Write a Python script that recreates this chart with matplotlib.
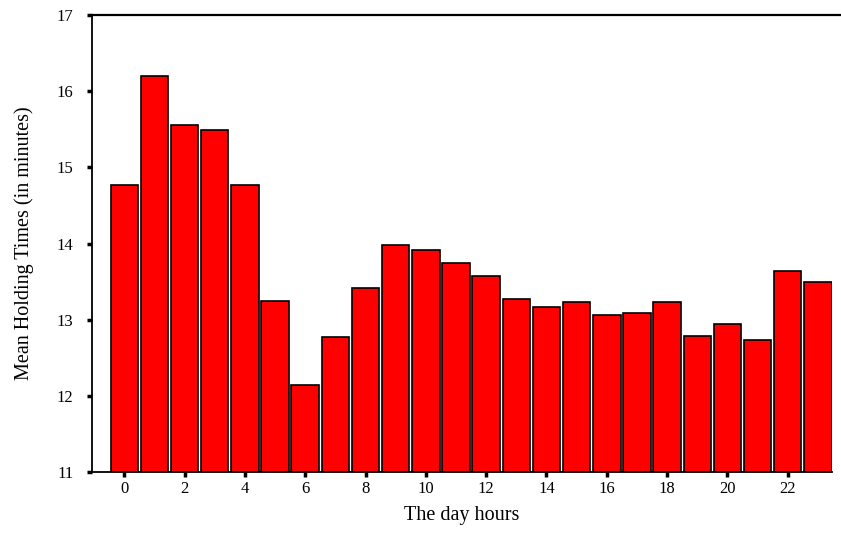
import matplotlib
matplotlib.use("Agg")
import matplotlib.pyplot as plt
from matplotlib.lines import Line2D

# Mean holding time per hour of the day
hours = list(range(24))
mean_holding = [14.77, 16.20, 15.55, 15.49, 14.77, 13.25, 12.15, 12.77,
                13.42, 13.98, 13.92, 13.74, 13.58, 13.28, 13.17, 13.23,
                13.06, 13.09, 13.23, 12.79, 12.95, 12.73, 13.64, 13.50]
y_ticks = [11, 12, 13, 14, 15, 16, 17]
x_ticks = list(range(0, 24, 2))
baseline = 11

plt.rcParams['font.family'] = ['Liberation Serif', 'DejaVu Serif']

fig = plt.figure(figsize=(8.41, 5.54), dpi=100)
ax = fig.add_axes([0.1094, 0.1475, 0.989 - 0.1094, 0.973 - 0.1475])

heights = [v - baseline for v in mean_holding]
ax.bar(hours, heights, bottom=baseline, width=0.91, color='#ff0000',
       edgecolor='black', linewidth=1.2, zorder=2)

ax.set_xlim(-1.07, 23.46)
ax.set_ylim(11, 17)
ax.set_yticks(y_ticks)
ax.set_xticks(x_ticks)

ax.spines['right'].set_visible(False)
ax.spines['top'].set_visible(False)
for side in ('left', 'bottom'):
    ax.spines[side].set_linewidth(1.3)

# frame line across the top
fig.add_artist(Line2D([0.1094, 1.0], [0.973, 0.973], color='black',
                      linewidth=1.6, transform=fig.transFigure))

ax.tick_params(axis='both', direction='out', length=3.5, width=2.5,
               labelsize=12)
ax.tick_params(axis='y', pad=10)
ax.tick_params(axis='x', pad=3)

ax.set_ylabel('Mean Holding Times (in minutes)', fontsize=14.5, labelpad=16)
ax.set_xlabel('The day hours', fontsize=14.5, labelpad=6)

fig.savefig('out.png', dpi=100)
